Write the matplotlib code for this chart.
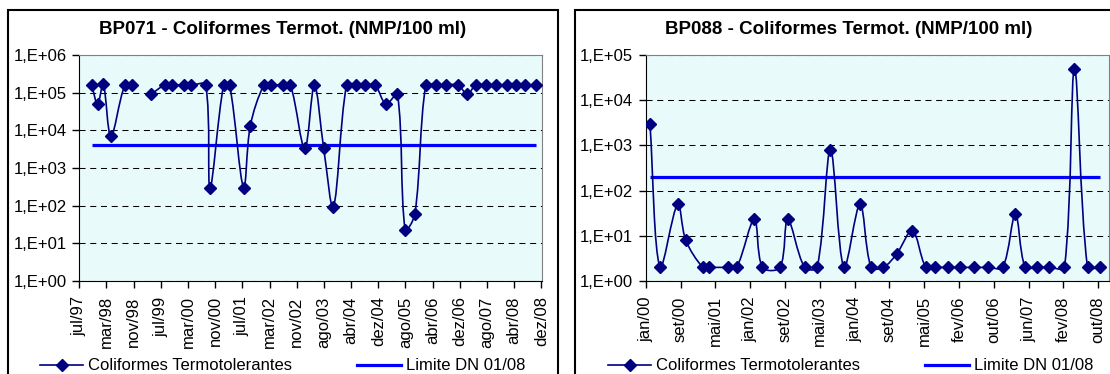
import matplotlib
matplotlib.use('Agg')
import matplotlib.pyplot as plt
import matplotlib.dates as mdates
import numpy as np
import pandas as pd
from matplotlib.path import Path
from matplotlib.patches import PathPatch, Rectangle
from matplotlib.lines import Line2D
from matplotlib.ticker import FixedLocator, FuncFormatter, NullLocator

plt.rcParams['font.family'] = ['Liberation Sans', 'DejaVu Sans']

# ---- BP071 ----
datas_bp071 = ['1997-11-06', '1997-12-30', '1998-02-19', '1998-04-29', '1998-09-02', '1998-11-07',
               '1999-02-01', '1999-04-24', '1999-08-28', '1999-11-02', '2000-02-17', '2000-04-23',
               '2000-08-30', '2000-10-08', '2001-02-08', '2001-04-03', '2001-08-07', '2001-10-06',
               '2002-02-06', '2002-04-13', '2002-07-26', '2002-10-03', '2003-02-09', '2003-05-07',
               '2003-07-30', '2003-10-25', '2004-02-21', '2004-05-16', '2004-08-08', '2004-11-03',
               '2005-02-10', '2005-05-25', '2005-08-02', '2005-10-29', '2006-02-04', '2006-05-05',
               '2006-08-03', '2006-11-22', '2007-02-14', '2007-04-30', '2007-07-29', '2007-10-27',
               '2008-02-03', '2008-04-24', '2008-07-14', '2008-10-21']
colif_bp071 = [160000, 50000, 170000, 7000, 160000, 160000,
               np.nan, 90000, 160000, 160000, 160000, 160000,
               160000, 300, 160000, 160000, 300, 13000,
               160000, 160000, 160000, 160000, 3300, 160000,
               3300, 90, 160000, 160000, 160000, 160000,
               50000, 90000, 23, 60, 160000, 160000,
               160000, 160000, 90000, 160000, 160000, 160000,
               160000, 160000, 160000, 160000]
limite_bp071 = 4000
ticks_bp071 = ['jul/97', 'mar/98', 'nov/98', 'jul/99', 'mar/00', 'nov/00', 'jul/01', 'mar/02', 'nov/02',
               'ago/03', 'abr/04', 'dez/04', 'ago/05', 'abr/06', 'dez/06', 'ago/07', 'abr/08', 'dez/08']

# ---- BP088 ----
datas_bp088 = ['2000-02-09', '2000-04-20', '2000-08-23', '2000-10-19', '2001-02-16', '2001-04-04',
               '2001-08-16', '2001-10-14', '2002-02-16', '2002-04-14', '2002-08-17', '2002-10-10',
               '2003-02-06', '2003-05-06', '2003-08-08', '2003-11-11', '2004-03-04', '2004-05-21',
               '2004-08-16', '2004-11-19', '2005-03-09', '2005-06-12', '2005-08-16', '2005-11-14',
               '2006-02-12', '2006-05-17', '2006-08-27', '2006-12-08', '2007-03-07', '2007-05-15',
               '2007-08-10', '2007-11-01', '2008-02-17', '2008-04-28', '2008-07-29', '2008-10-27']
colif_bp088 = [3000, 2, 50, 8, 2, 2,
               2, 2, 23, 2, 2, 23,
               2, 2, 800, 2, 50, 2,
               2, 4, 13, 2, 2, 2,
               2, 2, 2, 2, 30, 2,
               2, 2, 2, 50000, 2, 2]
limite_bp088 = 200
ticks_bp088 = ['jan/00', 'set/00', 'mai/01', 'jan/02', 'set/02', 'mai/03', 'jan/04', 'set/04',
               'mai/05', 'fev/06', 'out/06', 'jun/07', 'fev/08', 'out/08']

NAVY = '#000080'
BLUE = '#0000FF'
W, H = 1110, 374


def curva_suave(ax, x, y):
    # linha suavizada tipo Excel: Bezier calculada em coordenadas de tela
    verts, codes = [], []
    idx = np.where(~np.isnan(y))[0]
    runs = np.split(idx, np.where(np.diff(idx) != 1)[0] + 1)
    for run in runs:
        P = ax.transData.transform(np.column_stack([x[run], y[run]]))
        n = len(P)
        verts.append(P[0])
        codes.append(Path.MOVETO)
        d = np.hypot(*np.diff(P, axis=0).T)
        for i in range(n - 1):
            a = max(i - 1, 0)
            b = min(i + 2, n - 1)
            d_prev = d[i - 1] if i > 0 else 0.0
            d_next = d[i + 1] if i + 1 < n - 1 else 0.0
            f1 = d[i] / (d_prev + d[i]) / 3 if d_prev + d[i] > 0 else 0
            f2 = d[i] / (d[i] + d_next) / 3 if d[i] + d_next > 0 else 0
            c1 = P[i] + (P[i + 1] - P[a]) * f1
            c2 = P[i + 1] - (P[b] - P[i]) * f2
            verts += [c1, c2, P[i + 1]]
            codes += [Path.CURVE4] * 3
    return Path(np.array(verts), codes)


def grafico(rect, datas, valores, limite, rotulos, inicio, passo, xmax_dias, ymax, titulo, title_x, box, leg_x):
    ax = fig.add_axes(rect)
    x = mdates.date2num(pd.to_datetime(datas).to_pydatetime())
    y = np.array(valores, dtype=float)
    x0 = mdates.date2num(pd.Timestamp(inicio).to_pydatetime())

    ax.set_yscale('log')
    ax.set_ylim(1, ymax)
    ax.set_xlim(x0, x0 + xmax_dias)
    ax.set_facecolor('#E8FAFA')

    ax.plot([x[0], x[-1]], [limite, limite], color=BLUE, lw=2.3, zorder=3, solid_capstyle='butt')
    ax.add_patch(PathPatch(curva_suave(ax, x, y), fill=False, edgecolor=NAVY, lw=1.2, zorder=4,
                           transform=None, clip_on=True))
    ax.plot(x, y, linestyle='none', marker='D', ms=6, color=NAVY, zorder=5)

    ax.xaxis.set_major_locator(FixedLocator(x0 + passo * np.arange(len(rotulos))))
    ax.set_xticklabels(rotulos, rotation=90)
    dec = 10.0 ** np.arange(0, int(np.log10(ymax)) + 1)
    ax.yaxis.set_major_locator(FixedLocator(dec))
    ax.yaxis.set_minor_locator(NullLocator())
    ax.yaxis.set_major_formatter(FuncFormatter(lambda v, p: '1,E+%02d' % int(round(np.log10(v)))))
    ax.tick_params(axis='both', direction='out', length=5, width=1, labelsize=12, color='black')
    ax.tick_params(axis='x', pad=6)
    ax.tick_params(axis='y', pad=4)
    ax.yaxis.grid(True, color='black', linewidth=0.75, linestyle=(0, (5.8, 4.5)))
    ax.set_axisbelow(True)
    for s in ['top', 'right']:
        ax.spines[s].set_color('#808080')
    for s in ['left', 'bottom']:
        ax.spines[s].set_color('black')

    fig.patches.append(Rectangle((box[0] / W, -0.1), (box[1] - box[0]) / W, 1.1 - 10 / H,
                                 transform=fig.transFigure, fill=False, ec='black', lw=1.5))
    fig.text(title_x / W, 1 - 34.5 / H, titulo, ha='center', va='baseline', fontsize=13.5, fontweight='bold')

    handles = [Line2D([], [], color=NAVY, lw=1.2, marker='D', ms=6),
               Line2D([], [], color=BLUE, lw=2.3)]
    fig.legend(handles, ['Coliformes Termotolerantes', 'Limite DN 01/08'], loc='center left',
               bbox_to_anchor=(leg_x / W, 1 - 366 / H), ncol=2, frameon=False, fontsize=12,
               handlelength=2.6, handletextpad=0.3, columnspacing=3.9, borderpad=0, borderaxespad=0)


fig = plt.figure(figsize=(W / 100, H / 100), dpi=100)

grafico([79.3 / W, 93 / H, 462.4 / W, 226 / H], datas_bp071, colif_bp071, limite_bp071, ticks_bp071,
        '1997-07-18', 245, 4168, 1e6, 'BP071 - Coliformes Termot. (NMP/100 ml)', 283, (8, 558), 40)
grafico([645.7 / W, 93 / H, 463.6 / W, 226 / H], datas_bp088, colif_bp088, limite_bp088, ticks_bp088,
        '2000-01-10', 246, 3277, 1e5, 'BP088 - Coliformes Termot. (NMP/100 ml)', 849, (575, 1125), 608)

fig.savefig('out.png', dpi=100)
